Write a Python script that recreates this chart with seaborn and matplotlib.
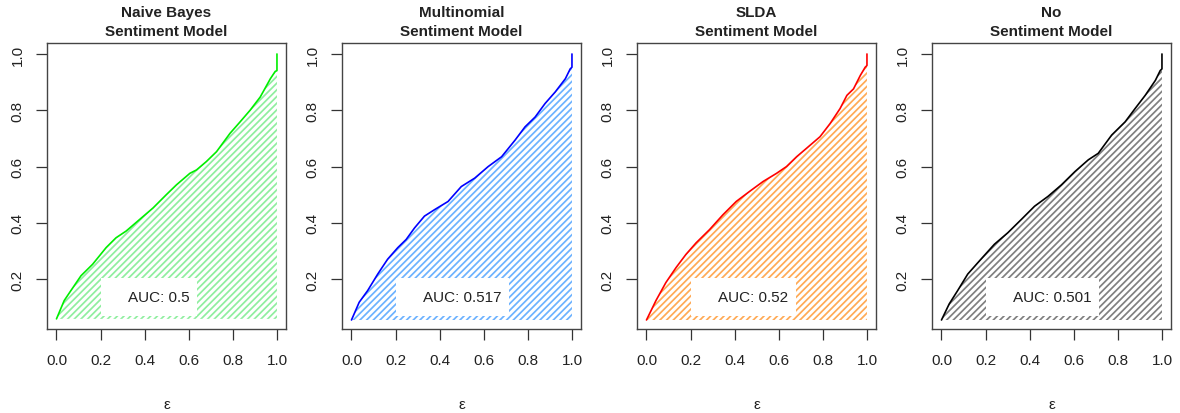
import numpy as np
import pandas as pd
import matplotlib
matplotlib.use("Agg")
import matplotlib.pyplot as plt
import seaborn as sns
from matplotlib.patches import Rectangle

# ---------------- data ----------------
titles = ["Naive Bayes\nSentiment Model", "Multinomial\nSentiment Model",
          "SLDA\nSentiment Model", "No\nSentiment Model"]
auc_labels = ["AUC: 0.5", "AUC: 0.517", "AUC: 0.52", "AUC: 0.501"]
line_colors = ["#00EE00", "#0000FF", "#FF0000", "#000000"]
hatch_colors = ["#8FEE9F", "#6CB2FF", "#FFAA55", "#808080"]

nb_x = [0.0, 0.035, 0.065, 0.111, 0.164, 0.225, 0.27, 0.316, 0.377, 0.438, 0.498,
        0.544, 0.605, 0.635, 0.68, 0.726, 0.787, 0.833, 0.878, 0.924, 0.97, 0.992, 1.0, 1.0]
nb_y = [0.059, 0.124, 0.159, 0.212, 0.253, 0.312, 0.347, 0.371, 0.412, 0.453, 0.5,
        0.535, 0.576, 0.588, 0.618, 0.653, 0.718, 0.759, 0.8, 0.847, 0.912, 0.938, 0.941, 1.0]

mn_x = [0.0, 0.035, 0.073, 0.119, 0.164, 0.21, 0.248, 0.286, 0.331, 0.377, 0.438,
        0.498, 0.559, 0.62, 0.681, 0.742, 0.787, 0.833, 0.878, 0.924, 0.97, 0.992, 1.0, 1.0]
mn_y = [0.055, 0.118, 0.159, 0.218, 0.271, 0.312, 0.341, 0.382, 0.424, 0.447, 0.476,
        0.529, 0.559, 0.6, 0.635, 0.694, 0.741, 0.776, 0.824, 0.865, 0.912, 0.947, 0.953, 1.0]

sl_x = [0.0, 0.043, 0.088, 0.134, 0.179, 0.225, 0.286, 0.347, 0.407, 0.468, 0.529,
        0.59, 0.635, 0.681, 0.726, 0.787, 0.833, 0.878, 0.909, 0.939, 0.97, 0.992, 1.0, 1.0]
sl_y = [0.055, 0.124, 0.188, 0.241, 0.288, 0.329, 0.376, 0.429, 0.476, 0.512, 0.547,
        0.576, 0.6, 0.635, 0.665, 0.706, 0.753, 0.806, 0.853, 0.876, 0.924, 0.953, 0.959, 1.0]

no_x = [0.0, 0.035, 0.073, 0.119, 0.179, 0.24, 0.301, 0.362, 0.422, 0.483, 0.544,
        0.605, 0.666, 0.711, 0.772, 0.833, 0.878, 0.924, 0.97, 0.992, 1.0, 1.0]
no_y = [0.055, 0.112, 0.159, 0.218, 0.271, 0.324, 0.365, 0.412, 0.459, 0.494, 0.535,
        0.582, 0.624, 0.647, 0.712, 0.759, 0.806, 0.853, 0.906, 0.941, 0.947, 1.0]

series = [(nb_x, nb_y), (mn_x, mn_y), (sl_x, sl_y), (no_x, no_y)]
x_ticks = [0.0, 0.2, 0.4, 0.6, 0.8, 1.0]
y_ticks = [0.2, 0.4, 0.6, 0.8, 1.0]
tick_labels_x = ["0.0", "0.2", "0.4", "0.6", "0.8", "1.0"]
tick_labels_y = ["0.2", "0.4", "0.6", "0.8", "1.0"]
x_label = "ε"

# ---------------- style ----------------
sns.set_theme(style="white")
plt.rcParams["font.family"] = ["Liberation Sans", "DejaVu Sans"]
plt.rcParams["hatch.linewidth"] = 1.25

W, H = 1180, 414
fig = plt.figure(figsize=(W / 100, H / 100), dpi=100)

ax_left0, ax_w, ax_step = 47, 239, 295
ax_top, ax_bot = 44, 330

for i, ((xs, ys), title, auc, lc, hc) in enumerate(
        zip(series, titles, auc_labels, line_colors, hatch_colors)):
    left = ax_left0 + i * ax_step
    ax = fig.add_axes([left / W, 1 - ax_bot / H, ax_w / W, (ax_bot - ax_top) / H])
    df = pd.DataFrame({"x": xs, "y": ys})
    base = ys[0]
    # hatched area under the curve (exclude final vertical jump)
    ax.fill_between(xs[:-1], ys[:-1], base, facecolor="none", edgecolor=hc,
                    linewidth=0, hatch="/////", zorder=1)
    sns.lineplot(data=df, x="x", y="y", sort=False, estimator=None, color=lc,
                 linewidth=1.2, ax=ax, zorder=3)
    ax.set_xlim(-0.043, 1.041)
    ax.set_ylim(0.023, 1.039)
    ax.set_xticks(x_ticks)
    ax.set_xticklabels(tick_labels_x)
    ax.set_yticks(y_ticks)
    ax.set_yticklabels(tick_labels_y, rotation=90, va="center")
    ax.tick_params(axis="both", which="both", length=8, width=0.9, color="#333333",
                   labelsize=11, labelcolor="#222222", direction="out",
                   bottom=True, left=True)
    ax.tick_params(axis="x", pad=9)
    ax.tick_params(axis="y", pad=8)
    for sp in ax.spines.values():
        sp.set_visible(True)
        sp.set_color("#444444")
        sp.set_linewidth(1.0)
    ax.set_xlabel(x_label, fontsize=11, labelpad=22, color="#222222")
    ax.set_ylabel("")
    ax.set_title(title, fontsize=11, fontweight="bold", color="#222222", pad=6,
                 linespacing=1.45)
    ax.grid(False)

    # AUC label box
    txt = ax.text(0.324, 0.135, auc, fontsize=11, color="#222222",
                  ha="left", va="center", zorder=5)
    fig.canvas.draw()
    bb = txt.get_window_extent().transformed(ax.transData.inverted())
    ax.add_patch(Rectangle((0.2, 0.068), bb.x1 + 0.035 - 0.2, 0.203 - 0.068,
                           facecolor="white", edgecolor="none", zorder=4))

fig.savefig("out.png", dpi=100)
